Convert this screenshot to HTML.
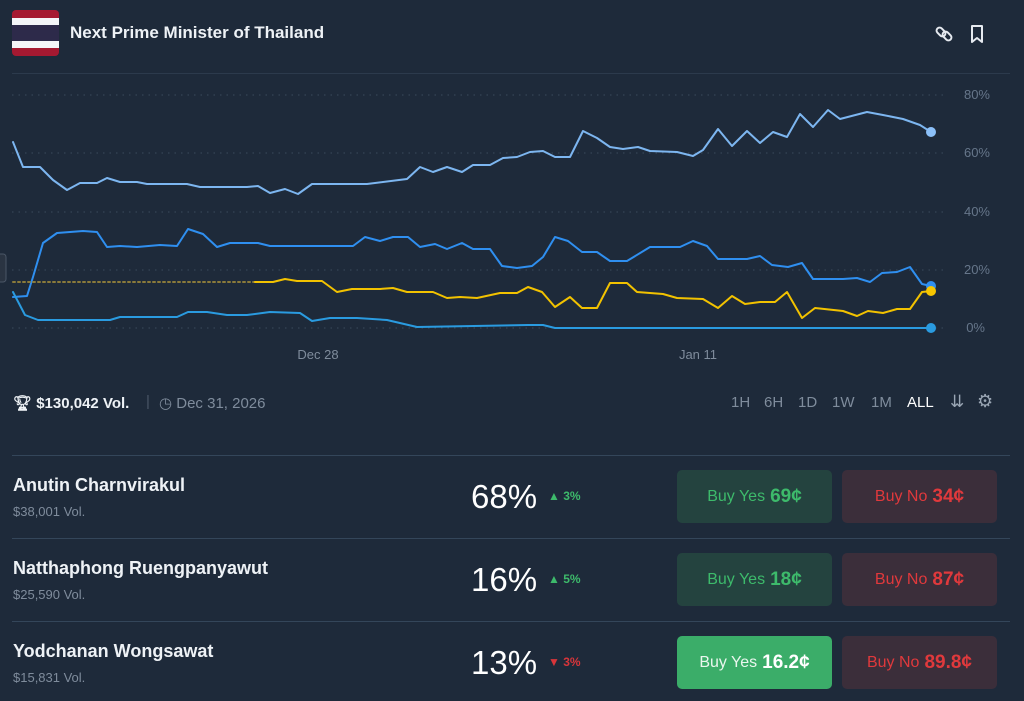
<!DOCTYPE html>
<html><head><meta charset="utf-8"><style>
*{margin:0;padding:0;box-sizing:border-box}
body{width:1024px;height:701px;background:#1e2a3a;font-family:"Liberation Sans",sans-serif;position:relative;overflow:hidden;color:#fff}
.a{position:absolute;white-space:nowrap}
.name{font-size:18px;font-weight:bold;color:#eef2f6;left:13px}
.vol{font-size:13px;color:#7f8c9c;left:13px}
.pct{font-size:33px;color:#fff;left:471px}
.chg{font-size:12px;font-weight:bold}
.btn{position:absolute;width:155px;height:53px;border-radius:5px;font-size:16px;display:flex;align-items:center;justify-content:center;font-weight:bold}
.yes{background:#24433f;color:#3dba6b}
.no{background:#3b2e3a;color:#e0393c}
.btn span{font-weight:normal}
.btn b{font-size:19px;margin-left:5px}
.hr{position:absolute;left:12px;width:998px;height:1px;background:#34465a}
.tf{font-size:15px;color:#7f8c9c;top:394px}
</style></head><body>
<div class="a" style="left:12px;top:10px;width:47px;height:46px;border-radius:4px;overflow:hidden">
<div style="height:8px;background:#a51931"></div><div style="height:7px;background:#f4f5f8"></div><div style="height:16px;background:#2d2a4a"></div><div style="height:7px;background:#f4f5f8"></div><div style="height:8px;background:#a51931"></div></div>
<div class="a" style="left:70px;top:23px;font-size:17px;font-weight:bold;color:#eef2f6">Next Prime Minister of Thailand</div>
<svg class="a" style="left:935px;top:23px" width="55" height="22" viewBox="0 0 55 22" fill="none" stroke="#e6eaf0" stroke-width="2"><rect x="1" y="6" width="10" height="6" rx="3" transform="rotate(45 6 9)"/><rect x="7" y="10" width="10" height="6" rx="3" transform="rotate(45 12 13)"/><path d="M37 3h10v16l-5-4-5 4z" stroke-linejoin="round"/></svg>
<div class="hr" style="top:73px;background:#2c3a4c"></div>
<svg class="a" style="left:0;top:0" width="1024" height="380">
<g stroke="#3b4a5c" stroke-dasharray="1.5 5" stroke-width="1">
<line x1="12" x2="948" y1="95" y2="95"/><line x1="12" x2="948" y1="153" y2="153"/><line x1="12" x2="948" y1="212" y2="212"/><line x1="12" x2="948" y1="270" y2="270"/><line x1="12" x2="948" y1="328" y2="328"/></g>
<g font-size="13" fill="#66768a" font-family="Liberation Sans,sans-serif" text-anchor="end">
<text x="990" y="99">80%</text><text x="990" y="157">60%</text><text x="990" y="216">40%</text><text x="990" y="274">20%</text><text x="985" y="332">0%</text></g>
<g font-size="13" fill="#7f8c9c" font-family="Liberation Sans,sans-serif" text-anchor="middle"><text x="318" y="359">Dec 28</text><text x="698" y="359">Jan 11</text></g>
<rect x="-6" y="254" width="12" height="28" rx="3" fill="#2a3442" stroke="#4a5666"/>
<g fill="none" stroke-width="2" stroke-linejoin="round" stroke-linecap="round">
<polyline stroke="#7db6f0" points="13,142 23,167 40,167 53,180 67,190 80,183 97,183 107,178 120,182 137,182 147,184 187,184 200,187 247,187 258,186 270,193 285,189 298,194 312,184 367,184 407,179 420,167 433,172 447,167 462,172 473,165 490,165 503,158 517,157 530,152 543,151 555,157 570,157 583,131 597,138 610,147 623,149 638,147 650,151 677,152 693,156 703,150 718,129 732,146 747,131 760,143 773,132 787,137 800,114 813,127 828,110 840,119 867,112 883,115 903,119 920,125 931,132"/>
<polyline stroke="#2f8ff0" points="13,297 27,296 33,277 43,243 57,233 83,231 97,232 107,247 120,246 137,247 160,245 177,246 188,229 203,234 217,247 230,243 258,243 270,246 353,246 365,237 380,241 393,237 408,237 420,247 435,244 447,249 462,243 473,249 490,249 502,266 517,268 532,266 543,257 555,237 568,241 582,252 597,252 610,261 627,261 650,247 680,247 693,241 707,246 718,259 747,259 760,256 772,265 788,267 802,263 813,279 843,279 857,278 870,282 882,273 897,272 910,267 922,284 931,286"/>
<line x1="13" y1="282" x2="255" y2="282" stroke="#8a7a3a" stroke-dasharray="2 3"/>
<polyline stroke="#f2c200" points="255,282 273,282 285,279 297,281 322,281 337,292 352,289 380,289 393,288 407,292 433,292 447,298 460,297 477,298 500,293 517,293 528,287 542,292 555,307 570,297 582,308 597,308 610,283 627,283 637,292 663,294 677,298 703,299 718,308 732,296 745,304 760,302 775,302 787,292 802,318 815,308 843,311 857,316 868,311 883,313 897,309 910,309 922,292 931,291"/>
<polyline stroke="#2a9be0" points="13,292 25,315 38,320 110,320 120,317 177,317 188,312 207,312 227,315 247,315 270,312 300,313 312,321 330,318 357,318 387,320 417,327 528,325 543,325 555,328 931,328"/>
</g>
<circle cx="931" cy="132" r="5" fill="#8cc0f8"/><circle cx="931" cy="286" r="5" fill="#2f8ff0"/><circle cx="931" cy="291" r="5" fill="#f7c600"/><circle cx="931" cy="328" r="5" fill="#2a9be0"/>
</svg>
<div class="a" style="left:13px;top:394px;font-size:15px;font-weight:bold;color:#eef2f6">🏆︎ $130,042 Vol.</div>
<div class="a" style="left:146px;top:393px;font-size:15px;color:#4a5666">|</div>
<div class="a" style="left:159px;top:394px;font-size:15px;color:#7f8c9c">◷ Dec 31, 2026</div>
<div class="a tf" style="left:731px">1H</div><div class="a tf" style="left:764px">6H</div><div class="a tf" style="left:798px">1D</div><div class="a tf" style="left:832px">1W</div><div class="a tf" style="left:871px">1M</div><div class="a tf" style="left:907px;color:#fff">ALL</div>
<div class="a" style="left:950px;top:392px;font-size:17px;color:#9aa6b4">⇊</div>
<div class="a" style="left:977px;top:391px;font-size:18px;color:#9aa6b4">⚙</div>
<div class="hr" style="top:455px"></div>
<div class="hr" style="top:538px"></div>
<div class="hr" style="top:621px"></div>

<div class="a name" style="top:475px">Anutin Charnvirakul</div><div class="a vol" style="top:504px">$38,001 Vol.</div>
<div class="a pct" style="top:478px">68%</div><div class="a chg" style="left:548px;top:489px;color:#3dba6b">▲ 3%</div>
<div class="btn yes" style="left:677px;top:470px"><span>Buy Yes</span><b>69¢</b></div><div class="btn no" style="left:842px;top:470px"><span>Buy No</span><b>34¢</b></div>

<div class="a name" style="top:558px">Natthaphong Ruengpanyawut</div><div class="a vol" style="top:587px">$25,590 Vol.</div>
<div class="a pct" style="top:561px">16%</div><div class="a chg" style="left:548px;top:572px;color:#3dba6b">▲ 5%</div>
<div class="btn yes" style="left:677px;top:553px"><span>Buy Yes</span><b>18¢</b></div><div class="btn no" style="left:842px;top:553px"><span>Buy No</span><b>87¢</b></div>

<div class="a name" style="top:641px">Yodchanan Wongsawat</div><div class="a vol" style="top:670px">$15,831 Vol.</div>
<div class="a pct" style="top:644px">13%</div><div class="a chg" style="left:548px;top:655px;color:#d8353a">▼ 3%</div>
<div class="btn" style="left:677px;top:636px;background:#3bad69;color:#eaf6ee"><span>Buy Yes</span><b style="color:#fff">16.2¢</b></div><div class="btn no" style="left:842px;top:636px"><span>Buy No</span><b>89.8¢</b></div>
</body></html>
